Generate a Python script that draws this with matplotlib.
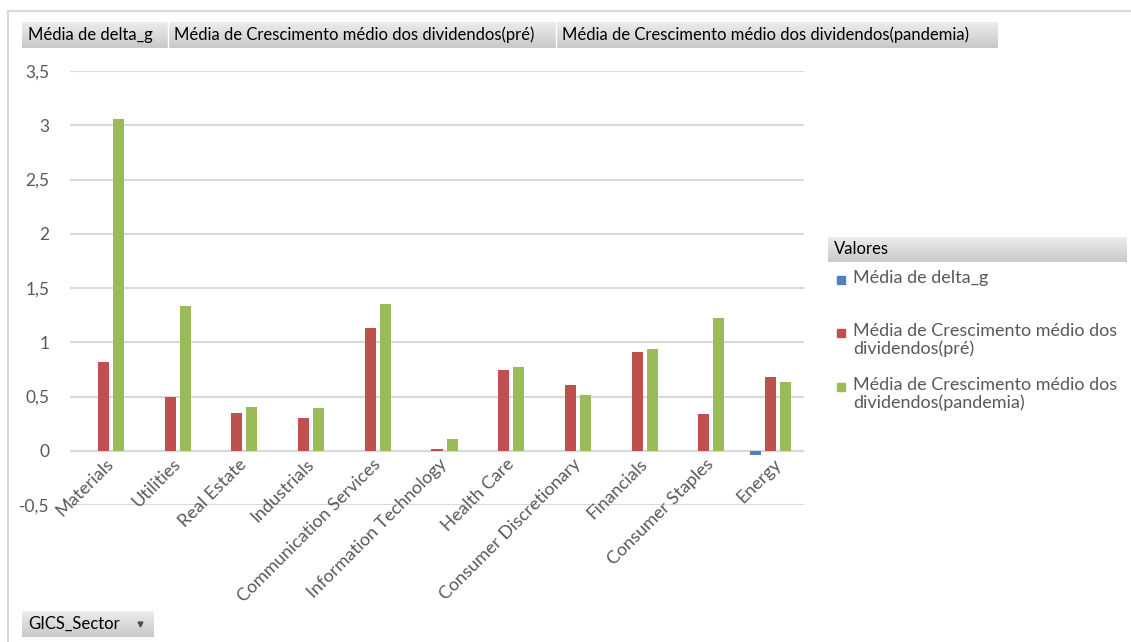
import numpy as np
import matplotlib
matplotlib.use("Agg")
import matplotlib.pyplot as plt
from matplotlib.patches import Rectangle
from matplotlib.transforms import offset_copy

plt.rcParams['font.family'] = ['Lato', 'DejaVu Sans']

# dados
setores = ['Materials', 'Utilities', 'Real Estate', 'Industrials',
           'Communication Services', 'Information Technology', 'Health Care',
           'Consumer Discretionary', 'Financials', 'Consumer Staples', 'Energy']
delta_g = [0, 0, 0, 0, 0, 0, 0, 0, 0, 0, -0.04]
cresc_pre = [0.82, 0.50, 0.35, 0.30, 1.13, 0.015, 0.74, 0.61, 0.91, 0.34, 0.68]
cresc_pandemia = [3.06, 1.33, 0.40, 0.39, 1.35, 0.11, 0.77, 0.51, 0.94, 1.22, 0.63]
yticks = [-0.5, 0, 0.5, 1, 1.5, 2, 2.5, 3, 3.5]
ytick_labels = ['-0,5', '0', '0,5', '1', '1,5', '2', '2,5', '3', '3,5']

series_names = ['Média de delta_g',
                'Média de Crescimento médio dos dividendos(pré)',
                'Média de Crescimento médio dos dividendos(pandemia)']
legend_labels = ['Média de delta_g',
                 'Média de Crescimento médio dos\ndividendos(pré)',
                 'Média de Crescimento médio dos\ndividendos(pandemia)']
cores = ['#4F81BD', '#C0504D', '#9BBB59']

W, H = 1131, 642
GREY_TXT = '#595959'


def px(x, y, w, h):
    """converte retângulo em pixels (origem no topo) para coordenadas da figura"""
    return [x / W, 1 - (y + h) / H, w / W, h / H]


def botao(fig, x, y, w, h, texto, seta=False, tam=12):
    ax = fig.add_axes(px(x, y, w, h))
    grad = np.linspace(0, 1, 50).reshape(-1, 1)
    ax.imshow(grad, aspect='auto', cmap=matplotlib.colors.LinearSegmentedColormap.from_list(
        'g', ['#ececec', '#c9c9c9']), extent=[0, 1, 0, 1], origin='upper')
    ax.set_xlim(0, 1)
    ax.set_ylim(0, 1)
    ax.axis('off')
    ax.text(6 / w, 0.5, texto, ha='left', va='center', fontsize=tam, color='black')
    if seta:
        ax.plot([(w - 14) / w], [0.5], marker='v', color='#505050', markersize=3.5)
    return ax


fig = plt.figure(figsize=(W / 100, H / 100), dpi=100)

# moldura
fig.add_artist(plt.Line2D([8 / W, 1], [1 - 10.5 / H, 1 - 10.5 / H], color='#d9d9d9', lw=1.5))
fig.add_artist(plt.Line2D([8 / W, 8 / W], [0, 1 - 10.5 / H], color='#d9d9d9', lw=1.5))

ax = fig.add_axes(px(70, 71, 734, 434))
x = np.arange(len(setores))
larg = 0.165
desl = 0.225
for i, (vals, cor) in enumerate(zip([delta_g, cresc_pre, cresc_pandemia], cores)):
    ax.bar(x + (i - 1) * desl, vals, width=larg, color=cor, linewidth=0,
           zorder=3, label=series_names[i])

ax.set_xlim(-0.5, len(setores) - 0.5)
ax.set_ylim(-0.5, 3.5)
ax.set_yticks(yticks)
ax.set_yticklabels(ytick_labels)
ax.set_xticks([])
ax.tick_params(axis='y', length=0, pad=15, labelsize=12.5, labelcolor=GREY_TXT)
ax.grid(axis='y', color='#d9d9d9', lw=1.5, zorder=0)
ax.axhline(0, color='#d9d9d9', lw=1.5, zorder=1)
for s in ax.spines.values():
    s.set_visible(False)

trans = offset_copy(ax.transData, fig=fig, x=2, y=-5, units='dots')
for i, nome in enumerate(setores):
    ax.text(i, 0, nome, transform=trans, rotation=45, rotation_mode='anchor',
            ha='right', va='top', fontsize=13, color=GREY_TXT)

# botões de campo
botao(fig, 22, 22, 146, 26, series_names[0])
botao(fig, 168, 22, 388, 26, series_names[1])
botao(fig, 556, 22, 441, 26, series_names[2])
for xb in [168, 556]:
    fig.add_artist(plt.Line2D([xb / W, xb / W], [1 - 48 / H, 1 - 22 / H], color='white', lw=1))
botao(fig, 22, 611, 132, 26, 'GICS_Sector', seta=True)

# legenda
botao(fig, 828, 237, 299, 25, 'Valores', tam=12)
leg_y = [280, 333, 387]
for yy, lab, cor in zip(leg_y, legend_labels, cores):
    fig.add_artist(Rectangle((837 / W, 1 - (yy + 4) / H), 8 / W, 8 / H, color=cor,
                             transform=fig.transFigure))
    fig.text(853 / W, 1 - (yy - 10) / H, lab, ha='left', va='top', fontsize=13,
             color=GREY_TXT, linespacing=1.1)

fig.savefig('out.png', dpi=100)
